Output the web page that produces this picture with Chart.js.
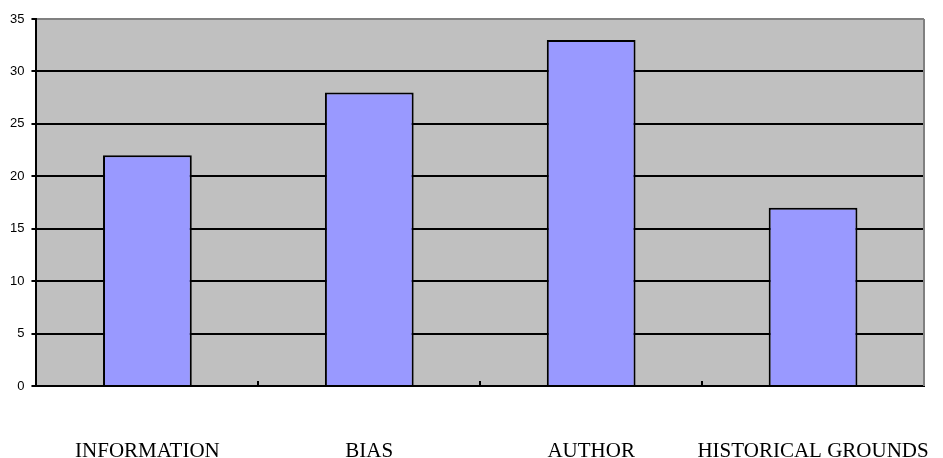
<!DOCTYPE html>
<html>
<head>
<meta charset="utf-8">
<script src="https://cdn.jsdelivr.net/npm/chart.js@4"></script>
<style>
  html, body { margin: 0; padding: 0; background: #ffffff; }
  #wrap { width: 943px; height: 458px; position: relative; }
</style>
</head>
<body>
<div id="wrap"><canvas id="chart" width="943" height="458"></canvas></div>
<script>
// Categories and values
const categories = ['INFORMATION', 'BIAS', 'AUTHOR', 'HISTORICAL GROUNDS'];
const counts = [22, 28, 33, 17];
const yTicks = [0, 5, 10, 15, 20, 25, 30, 35];

// Gray plot background, gray top/right frame, small inward category ticks
const plotFrame = {
  id: 'plotFrame',
  beforeDraw(chart) {
    const { ctx, chartArea: a } = chart;
    ctx.save();
    ctx.fillStyle = '#c0c0c0';
    ctx.fillRect(a.left, a.top, a.right - a.left, a.bottom - a.top);
    ctx.restore();
  },
  afterDraw(chart) {
    const { ctx, chartArea: a } = chart;
    const xs = chart.scales.x;
    ctx.save();
    ctx.strokeStyle = '#808080';
    ctx.lineWidth = 2;
    ctx.beginPath();
    ctx.moveTo(a.right, a.top);
    ctx.lineTo(a.right, a.bottom);
    ctx.stroke();
    ctx.strokeStyle = '#000000';
    ctx.lineWidth = 2;
    ctx.beginPath();
    for (let i = 1; i < categories.length; i++) {
      const x = Math.round((xs.getPixelForTick(i - 1) + xs.getPixelForTick(i)) / 2);
      ctx.moveTo(x, a.bottom);
      ctx.lineTo(x, a.bottom - 5);
    }
    ctx.stroke();
    ctx.restore();
  }
};

new Chart(document.getElementById('chart'), {
  type: 'bar',
  data: {
    labels: categories,
    datasets: [{
      data: counts,
      backgroundColor: '#9999ff',
      borderColor: '#000000',
      borderWidth: 2,
      borderSkipped: 'bottom',
      barPercentage: 0.4,
      categoryPercentage: 1.0
    }]
  },
  options: {
    responsive: false,
    animation: false,
    layout: { padding: { left: 3, right: 19, top: 19, bottom: 0 } },
    plugins: { legend: { display: false }, tooltip: { enabled: false } },
    scales: {
      x: {
        // keep the axis band fixed and let the long labels run into the margins
        afterFit(scale) {
          scale.height = 72;
          scale.paddingLeft = 0;
          scale.paddingRight = 0;
        },
        grid: { display: true, drawOnChartArea: false, drawTicks: false },
        border: { color: '#000000', width: 2 },
        ticks: {
          color: '#000000',
          padding: 55,
          autoSkip: false,
          maxRotation: 0,
          minRotation: 0,
          font: { family: '"Liberation Serif", "Times New Roman", serif', size: 21, lineHeight: 1.0 }
        }
      },
      y: {
        min: 0,
        max: 35,
        afterBuildTicks(scale) { scale.ticks = yTicks.map(v => ({ value: v })); },
        grid: {
          color: ctx => (ctx.tick && ctx.tick.value === 35 ? '#808080' : '#000000'),
          lineWidth: 2,
          tickLength: 5,
          tickColor: '#000000'
        },
        border: { color: '#000000', width: 2 },
        ticks: {
          color: '#000000',
          padding: 7,
          font: { family: '"Liberation Sans", Arial, sans-serif', size: 13 }
        }
      }
    }
  },
  plugins: [plotFrame]
});
</script>
</body>
</html>
